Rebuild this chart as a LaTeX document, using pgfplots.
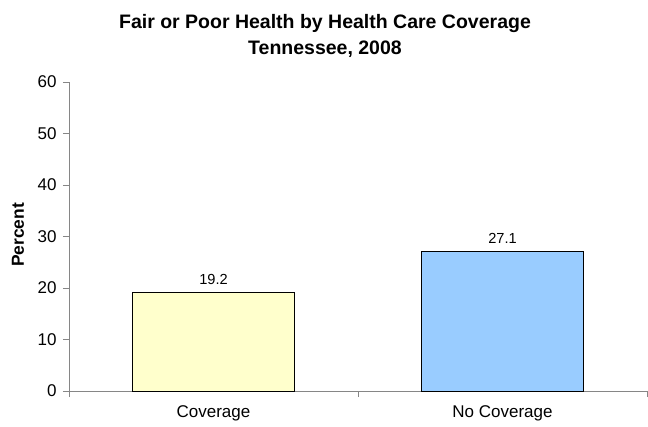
\documentclass[border=0pt]{standalone}
\usepackage{fontspec}
\setmainfont{Liberation Sans}
\usepackage{pgfplots}
\pgfplotsset{compat=1.18}
\definecolor{baryellow}{HTML}{FFFFCC}
\definecolor{barblue}{HTML}{99CCFF}
\definecolor{axisgray}{HTML}{868686}
\begin{document}
\begin{tikzpicture}
\useasboundingbox (0,0) rectangle (648pt,426pt);
\begin{axis}[
  at={(69pt,35pt)}, anchor=south west,
  scale only axis, width=578pt, height=309pt,
  xmin=-0.5, xmax=1.5, ymin=0, ymax=60,
  axis x line*=bottom, axis y line*=left,
  axis line style={draw=axisgray, line width=0.8pt},
  every tick/.style={draw=axisgray, line width=0.8pt},
  tick align=outside, major tick length=6pt,
  ytick={0,10,...,60},
  xtick={-0.5,0.5,1.5},
  x tick label as interval,
  xticklabels={Coverage, No Coverage},
  /pgf/number format/assume math mode=true,
  tick label style={font=\fontsize{17}{20}\selectfont, text=black},
  yticklabel style={xshift=-3pt},
  xticklabel style={yshift=-5pt},
  clip=false,
]
\addplot[ybar, bar shift=0pt, bar width=162pt, fill=baryellow, draw=black, line width=0.8pt,
  nodes near coords, every node near coord/.append style={font=\fontsize{14.6}{17}\selectfont, text=black, yshift=4pt},
  nodes near coords align={vertical}] coordinates {(0,19.2)};
\addplot[ybar, bar shift=0pt, bar width=162pt, fill=barblue, draw=black, line width=0.8pt,
  nodes near coords, every node near coord/.append style={font=\fontsize{14.6}{17}\selectfont, text=black, yshift=4pt},
  nodes near coords align={vertical}] coordinates {(1,27.1)};
\end{axis}
\node[rotate=90, font=\bfseries\fontsize{17.4}{20}\selectfont] at (18pt,191pt) {Percent};
\node[align=center, font=\bfseries\fontsize{19.5}{26}\selectfont] at (325pt,390pt) {Fair or Poor Health by Health Care Coverage\\Tennessee, 2008};
\end{tikzpicture}
\end{document}
